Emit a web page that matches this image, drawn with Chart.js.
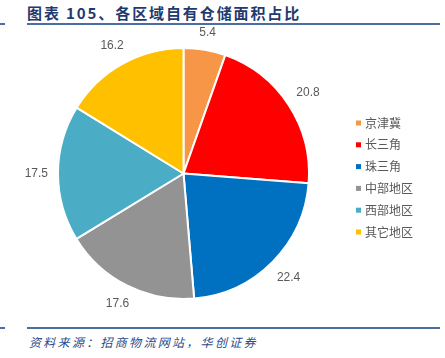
<!DOCTYPE html>
<html>
<head>
<meta charset="utf-8">
<script src="https://cdn.jsdelivr.net/npm/chart.js@4"></script>
<style>
  body { margin: 0; background: #fff; }
  #wrap { position: relative; width: 445px; height: 358px; overflow: hidden; }
  .title { position: absolute; left: 27px; top: 2px; font-family: "Noto Sans CJK SC"; font-weight: bold; font-size: 15px; color: #1f3a6e; letter-spacing: 1.9px; }
  .rule { position: absolute; height: 2px; background: #4a6da3; }
  .foot { position: absolute; left: 29px; top: 333px; font-family: "Noto Sans CJK SC"; font-style: italic; font-size: 12px; color: #2a4a8a; letter-spacing: 2.3px; }
  canvas { position: absolute; left: 0; top: 0; }
</style>
</head>
<body>
<div id="wrap">
  <div class="title">图表 105、各区域自有仓储面积占比</div>
  <div class="rule" style="left:0;width:5px;top:23px"></div>
  <div class="rule" style="left:27px;width:413px;top:23px"></div>
  <div class="rule" style="left:0;width:5px;top:327px"></div>
  <div class="rule" style="left:27px;width:413px;top:327px"></div>
  <div class="foot">资料来源：招商物流网站，华创证券</div>
  <canvas id="myChart" width="445" height="358"></canvas>
</div>
<script>
// regions and their share of owned warehouse area
const regions = ['京津冀', '长三角', '珠三角', '中部地区', '西部地区', '其它地区'];
const shares = [5.4, 20.8, 22.4, 17.6, 17.5, 16.2];
const colors = ['#F79646', '#FF0000', '#0070C0', '#939393', '#4BACC6', '#FFC000'];

// value labels just outside each slice (box kept clear of the rim)
const outsideLabels = {
    id: 'outsideLabels',
    afterDatasetsDraw(chart) {
        const ctx = chart.ctx;
        const meta = chart.getDatasetMeta(0);
        ctx.save();
        ctx.font = '12px "Liberation Sans", Arial, sans-serif';
        ctx.fillStyle = '#595959';
        ctx.textAlign = 'center';
        ctx.textBaseline = 'middle';
        meta.data.forEach((arc, i) => {
            const p = arc.getProps(['x', 'y', 'startAngle', 'endAngle', 'outerRadius'], true);
            const mid = (p.startAngle + p.endAngle) / 2;
            const txt = shares[i].toFixed(1);
            const w = ctx.measureText(txt).width;
            const c = Math.cos(mid), s = Math.sin(mid);
            const r = p.outerRadius + 10 + Math.abs(c) * w / 2 + Math.abs(s) * 6;
            ctx.fillText(txt, p.x + c * r, p.y + s * r);
        });
        ctx.restore();
    }
};

// legend on the right, small squares
const sideLegend = {
    id: 'sideLegend',
    afterDraw(chart) {
        const ctx = chart.ctx;
        ctx.save();
        ctx.font = '12px "Noto Sans CJK SC"';
        ctx.textBaseline = 'middle';
        regions.forEach((name, i) => {
            const y = 123 + i * 21.8;
            ctx.fillStyle = colors[i];
            ctx.fillRect(356, y - 2.5, 5, 5);
            ctx.fillStyle = '#595959';
            ctx.fillText(name, 365, y);
        });
        ctx.restore();
    }
};

new Chart(document.getElementById('myChart'), {
    type: 'pie',
    data: {
        labels: regions,
        datasets: [{
            data: shares,
            backgroundColor: colors,
            borderColor: '#ffffff',
            borderWidth: 2
        }]
    },
    options: {
        responsive: false,
        animation: false,
        layout: { padding: { left: 57, top: 47, right: 135, bottom: 58 } },
        plugins: {
            legend: { display: false },
            tooltip: { enabled: false }
        }
    },
    plugins: [outsideLabels, sideLegend]
});
</script>
</body>
</html>
